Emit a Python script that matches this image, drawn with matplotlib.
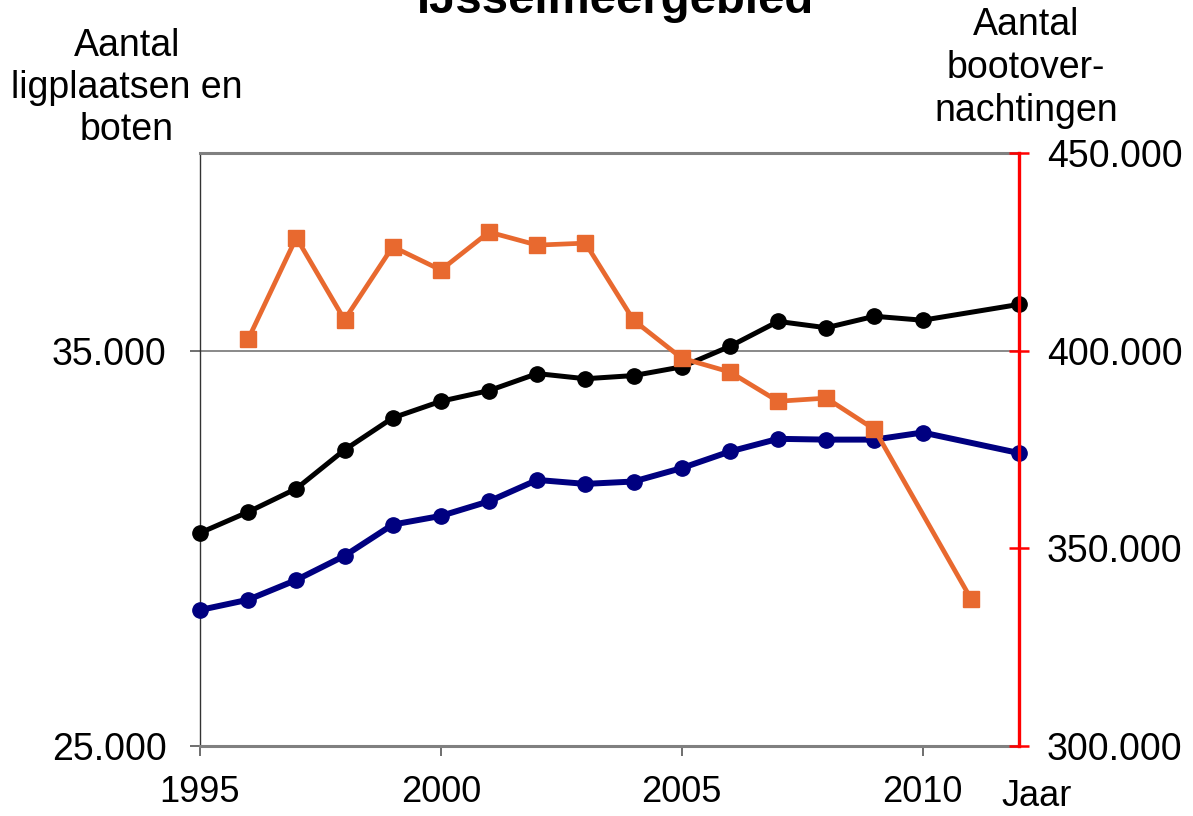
import matplotlib
matplotlib.use("Agg")
import matplotlib.pyplot as plt
from matplotlib.ticker import FuncFormatter

plt.rcParams['font.family'] = ['Liberation Sans', 'DejaVu Sans']

# ---- data ----
years_berths = [1995, 1996, 1997, 1998, 1999, 2000, 2001, 2002, 2003, 2004,
                2005, 2006, 2007, 2008, 2009, 2010, 2012]
berths = [30390, 30920, 31510, 32490, 33300, 33720, 33990, 34420, 34290, 34370,
          34590, 35110, 35740, 35580, 35870, 35770, 36170]
boats = [28440, 28700, 29200, 29810, 30600, 30820, 31190, 31730, 31630, 31690,
         32030, 32450, 32770, 32750, 32750, 32930, 32410]

years_nights = [1996, 1997, 1998, 1999, 2000, 2001, 2002, 2003, 2004, 2005,
                2006, 2007, 2008, 2009, 2011]
nights = [402900, 428600, 407800, 426300, 420400, 430000, 426700, 427200,
          407700, 398100, 394600, 387200, 388000, 380100, 337300]

x_ticks = [1995, 2000, 2005, 2010]
left_ticks = [25000, 35000]
right_ticks = [300000, 350000, 400000, 450000]

title = "IJsselmeergebied"
left_label = "Aantal\nligplaatsen en\nboten"
right_label = "Aantal\nbootover-\nnachtingen"
x_label = "Jaar"

def dotfmt(v, pos=None):
    return f"{v:,.0f}".replace(",", ".")

W, H = 1193, 816
fig = plt.figure(figsize=(W / 100, H / 100), dpi=100)
ax = fig.add_axes([200 / W, 1 - 746 / H, (1019 - 200) / W, (746 - 153) / H])
ax2 = ax.twinx()

FS = 27

# left axis
ax.set_xlim(1995, 2012)
ax.set_ylim(25000, 40000)
ax.set_yticks(left_ticks)
ax.yaxis.set_major_formatter(FuncFormatter(dotfmt))
ax.set_xticks(x_ticks)
ax.set_xticklabels([str(t) for t in x_ticks])
ax.axhline(35000, color='#808080', lw=1.3, zorder=1)

ax.plot(years_berths, berths, color='black', lw=3.6, marker='o', ms=11,
        zorder=3, clip_on=False)
ax.plot(years_berths, boats, color='#000080', lw=4.3, marker='o', ms=11,
        zorder=3, clip_on=False)

for s in ['top', 'bottom']:
    ax.spines[s].set_color('#808080')
    ax.spines[s].set_linewidth(2.2)
ax.spines['left'].set_color('#333333')
ax.spines['left'].set_linewidth(1.0)
ax.spines['right'].set_visible(False)

ax.tick_params(axis='y', direction='out', length=7, width=1.2, color='#555555',
               pad=17, labelsize=FS)
ax.tick_params(axis='x', direction='out', length=7, width=1.2, color='#555555',
               pad=14, labelsize=26)

# right axis
ax2.set_ylim(300000, 450000)
ax2.set_yticks(right_ticks)
ax2.yaxis.set_major_formatter(FuncFormatter(dotfmt))
ax2.plot(years_nights, nights, color='#E8692F', lw=3.4, marker='s', ms=11,
         zorder=4, clip_on=False)
for s in ['top', 'bottom', 'left']:
    ax2.spines[s].set_visible(False)
ax2.spines['right'].set_color('#FF0000')
ax2.spines['right'].set_linewidth(2.4)
ax2.tick_params(axis='y', direction='inout', length=14, width=1.8, color='#FF0000',
                pad=13, labelsize=FS)

# texts
fig.text(615 / W, 1 - 13 / H, title, ha='center', va='baseline',
         fontsize=34, fontweight='bold')
fig.text(127 / W, 1 - 88 / H, left_label, ha='center', va='center',
         fontsize=FS, linespacing=1.22, multialignment='center')
fig.text(1026 / W, 1 - 68 / H, right_label, ha='center', va='center',
         fontsize=FS, linespacing=1.25, multialignment='center')
fig.text(1037 / W, 1 - 796 / H, x_label, ha='center', va='center', fontsize=26)

fig.savefig("out.png", dpi=100)
